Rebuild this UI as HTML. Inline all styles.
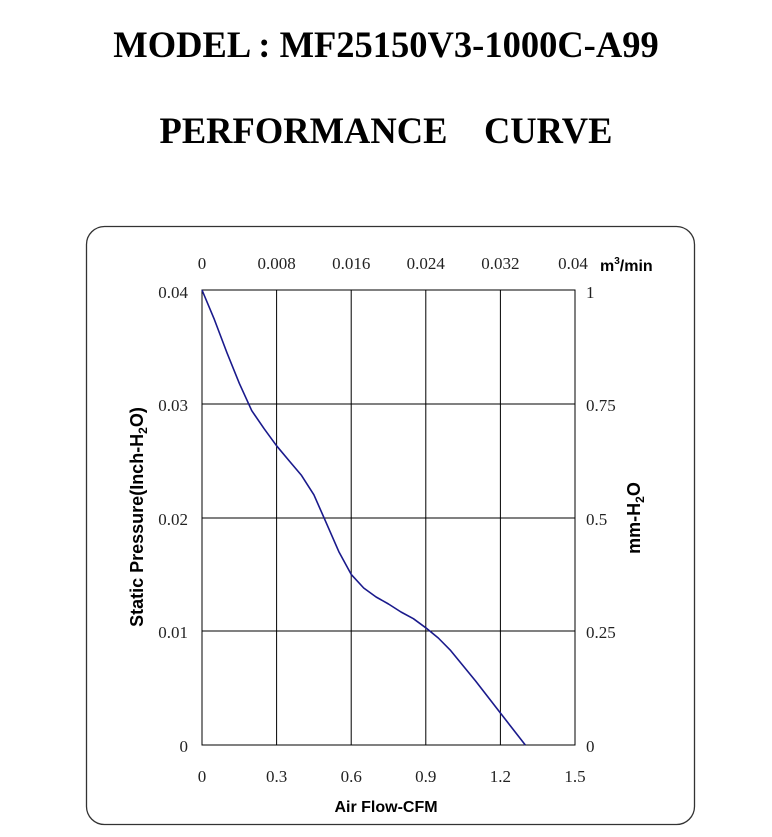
<!DOCTYPE html>
<html><head><meta charset="utf-8"><style>
html,body{margin:0;padding:0;background:#fff;}
body{width:772px;height:832px;position:relative;overflow:hidden;}
</style></head><body>
<svg width="772" height="832" xmlns="http://www.w3.org/2000/svg">
<text x="386" y="57" text-anchor="middle" font-family="Liberation Serif" font-weight="bold" font-size="36.5">MODEL : MF25150V3-1000C-A99</text>
<text x="386" y="143" text-anchor="middle" font-family="Liberation Serif" font-weight="bold" font-size="36.5" xml:space="preserve">PERFORMANCE    CURVE</text>
<rect x="86.5" y="226.5" width="608" height="598" rx="18" fill="none" stroke="#333" stroke-width="1.3"/>
<g stroke="#000" stroke-width="1">
<rect x="202" y="290" width="373" height="455" fill="none"/>
<line x1="276.6" y1="290" x2="276.6" y2="745"/>
<line x1="351.2" y1="290" x2="351.2" y2="745"/>
<line x1="425.8" y1="290" x2="425.8" y2="745"/>
<line x1="500.4" y1="290" x2="500.4" y2="745"/>
<line x1="202" y1="404" x2="575" y2="404"/>
<line x1="202" y1="518" x2="575" y2="518"/>
<line x1="202" y1="631" x2="575" y2="631"/>
</g>
<polyline fill="none" stroke="#1a1a8c" stroke-width="1.6" stroke-linejoin="round" points="202,290 214.4,319.6 226.9,352.6 239.3,383.3 251.7,410.6 264.2,428.8 276.6,445.8 289,460.6 301.5,475.4 313.9,494.8 326.4,523.2 338.8,551.6 351.2,574.4 363.7,588 376.1,597 388.5,604 401,612 413.4,618.7 425.8,627.8 438.3,638 450.7,650.6 475.6,681 500.4,713 525.3,745"/>
<g font-family="Liberation Serif" font-size="17" fill="#222">
<g text-anchor="middle">
<text x="202" y="269">0</text><text x="276.6" y="269">0.008</text><text x="351.2" y="269">0.016</text><text x="425.8" y="269">0.024</text><text x="500.4" y="269">0.032</text><text x="573" y="269">0.04</text>
<text x="202" y="782">0</text><text x="276.6" y="782">0.3</text><text x="351.2" y="782">0.6</text><text x="425.8" y="782">0.9</text><text x="500.4" y="782">1.2</text><text x="575" y="782">1.5</text>
</g>
<g text-anchor="end">
<text x="188" y="298">0.04</text><text x="188" y="411">0.03</text><text x="188" y="525">0.02</text><text x="188" y="638">0.01</text><text x="188" y="752">0</text>
</g>
<text x="586" y="298">1</text><text x="586" y="411">0.75</text><text x="586" y="525">0.5</text><text x="586" y="638">0.25</text><text x="586" y="752">0</text>
</g>
<g font-family="Liberation Sans" font-weight="bold" font-size="16" fill="#000">
<text x="600" y="271">m<tspan font-size="10" dy="-7">3</tspan><tspan dy="7">/min</tspan></text>
<text x="386" y="812" text-anchor="middle">Air Flow-CFM</text>
<text transform="translate(143,517) rotate(-90)" text-anchor="middle" font-size="18">Static Pressure(Inch-H<tspan font-size="12" dy="4">2</tspan><tspan dy="-4">O)</tspan></text>
<text transform="translate(640,518) rotate(-90)" text-anchor="middle" font-size="18">mm-H<tspan font-size="12" dy="4">2</tspan><tspan dy="-4">O</tspan></text>
</g>
</svg>
</body></html>
